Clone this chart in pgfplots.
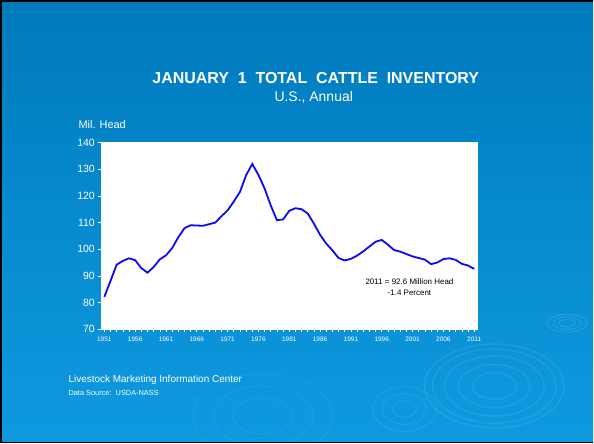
\documentclass[border=0pt]{standalone}
\usepackage{pgfplots}
\pgfplotsset{compat=1.18}
\usepackage{fontspec}
\setmainfont{Liberation Sans}

\definecolor{bgtop}{RGB}{0,122,189}
\definecolor{bgbot}{RGB}{14,154,224}
\definecolor{line}{RGB}{10,10,245}

\pgfplotstableread{
year head
1951 82.1
1952 88.1
1953 94.2
1954 95.6
1955 96.6
1956 95.9
1957 92.9
1958 91.2
1959 93.3
1960 96.2
1961 97.7
1962 100.4
1963 104.5
1964 107.9
1965 109.0
1966 108.9
1967 108.8
1968 109.4
1969 110.0
1970 112.4
1971 114.6
1972 117.9
1973 121.5
1974 127.8
1975 132.0
1976 127.9
1977 122.8
1978 116.4
1979 110.9
1980 111.2
1981 114.4
1982 115.4
1983 115.0
1984 113.4
1985 109.6
1986 105.4
1987 102.1
1988 99.6
1989 96.7
1990 95.8
1991 96.4
1992 97.6
1993 99.2
1994 101.0
1995 102.8
1996 103.5
1997 101.7
1998 99.7
1999 99.1
2000 98.2
2001 97.3
2002 96.7
2003 96.1
2004 94.4
2005 95.0
2006 96.3
2007 96.6
2008 96.0
2009 94.5
2010 93.9
2011 92.6
}\cattle

\begin{document}
\begin{tikzpicture}
\begin{scope}[x=1pt,y=1pt]
% slide background
\fill[top color=bgtop,bottom color=bgbot] (0,0) rectangle (594,444);
\begin{scope}
\clip (0,0) rectangle (594,444);
% ripple decoration
\foreach \r in {22,36,50,62,70} {
  \draw[white,opacity=0.08,line width=1.5] (495,57) ellipse ({\r} and {0.6*\r});
}
\foreach \r in {8,14,20} {
  \draw[white,opacity=0.12,line width=1] (568,120) ellipse ({\r} and {0.45*\r});
}
\foreach \r in {12,22,32} {
  \draw[white,opacity=0.07,line width=1.2] (405,34) ellipse ({\r} and {0.7*\r});
}
\foreach \r in {30,50,70} {
  \draw[white,opacity=0.05,line width=1.2] (263,27) ellipse ({\r} and {0.6*\r});
}
\end{scope}
\draw[black,line width=2] (1,0) -- (1,443) -- (594,443);
\draw[black,line width=1] (0,0.5) -- (594,0.5);

% titles
\node[white,font=\fontsize{16}{18}\selectfont\bfseries] at (316,366)
  {JANUARY\ \ 1\ \ TOTAL\ \ CATTLE\ \ INVENTORY};
\node[white,font=\fontsize{14}{16}\selectfont] at (314,346) {U.S., Annual};
\node[white,anchor=west,font=\fontsize{11}{13}\selectfont,inner sep=0] at (78,319) {Mil. Head};

% footer
\node[white,anchor=west,inner sep=0,font=\fontsize{10}{12}\selectfont] at (68,63)
  {Livestock Marketing Information Center};
\node[white,anchor=west,inner sep=0,font=\fontsize{7.4}{9}\selectfont] at (68,50)
  {Data Source:\ \ USDA-NASS};
\end{scope}

\begin{axis}[
    at={(101pt,114pt)}, anchor=south west,
    scale only axis,
    width=377pt, height=187pt,
    xmin=1950.5, xmax=2011.5,
    ymin=70, ymax=140,
    xtick={1951,1956,...,2011},
    minor x tick num=4,
    ytick={70,80,...,140},
    xtick pos=bottom, ytick pos=left,
    tick align=outside,
    major tick length=3pt,
    minor tick length=3pt,
    axis line style={white},
    every tick/.style={white, line width=0.6pt},
    axis background/.style={fill=white},
    tick label style={white},
    /pgf/number format/assume math mode=true,
    /pgf/number format/1000 sep={},
    yticklabel style={font=\fontsize{10.5}{12}\selectfont},
    xticklabel style={font=\fontsize{6.5}{8}\selectfont, yshift=-1pt},
    clip=false,
]
\addplot[line, line width=1.8pt, mark=none] table[x=year,y=head] {\cattle};
\node[black,align=center,font=\fontsize{8}{11}\selectfont] at (axis cs:2000.5,85.8)
  {2011 = 92.6 Million Head\\-1.4 Percent};
\end{axis}
\end{tikzpicture}
\end{document}
